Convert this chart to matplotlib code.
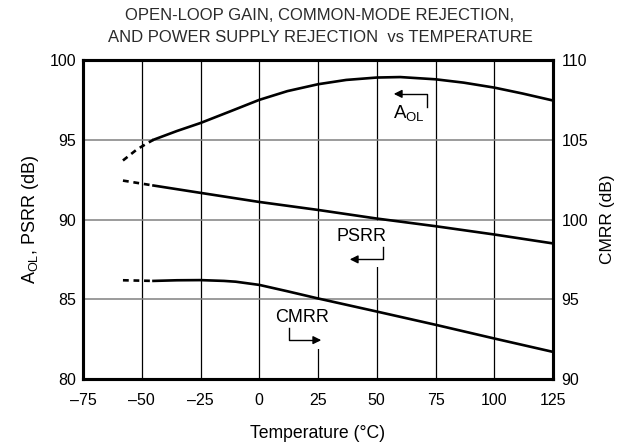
import matplotlib
matplotlib.use("Agg")
import matplotlib.pyplot as plt
import numpy as np

plt.rcParams['font.family'] = ['Liberation Sans', 'DejaVu Sans']
plt.rcParams['mathtext.fontset'] = 'custom'
plt.rcParams['mathtext.rm'] = 'Liberation Sans'

# A_OL (dB, left axis)
aol_dash_t = [-58, -55, -52, -48, -45]
aol_dash_v = [93.7, 94.05, 94.4, 94.75, 95.0]
aol_t = [-45, -35, -25, -12, 0, 12, 25, 37, 50, 60, 75, 87, 100, 112, 125]
aol_v = [95.0, 95.55, 96.05, 96.8, 97.5, 98.05, 98.48, 98.75, 98.9, 98.93, 98.79, 98.58, 98.27, 97.9, 97.46]

# PSRR (dB, left axis)
psrr_dash_t = [-58, -45]
psrr_dash_v = [92.44, 92.13]
psrr_t = [-45, -25, 0, 25, 50, 75, 100, 125]
psrr_v = [92.13, 91.67, 91.1, 90.6, 90.06, 89.58, 89.06, 88.5]

# CMRR (dB, right axis)
cmrr_dash_t = [-58, -45]
cmrr_dash_v = [96.19, 96.15]
cmrr_t = [-45, -35, -25, -15, -10, 0, 12, 25, 50, 75, 100, 125]
cmrr_v = [96.15, 96.19, 96.2, 96.15, 96.1, 95.9, 95.5, 95.05, 94.23, 93.4, 92.54, 91.7]

x_ticks = [-75, -50, -25, 0, 25, 50, 75, 100, 125]
x_labels = ['\u201375', '\u201350', '\u201325', '0', '25', '50', '75', '100', '125']
left_ticks = [80, 85, 90, 95, 100]
right_ticks = [90, 95, 100, 105, 110]

fig = plt.figure(figsize=(6.39, 4.48), dpi=100)
ax = fig.add_axes([83/639, 1-379/448, (553-83)/639, (379-60)/448])
ax2 = ax.twinx()

ax.set_xlim(-75, 125)
ax.set_ylim(80, 100)
ax2.set_ylim(90, 110)

for xt in x_ticks[1:-1]:
    ax.axvline(xt, color='black', lw=0.9, zorder=1)
for yt in left_ticks[1:-1]:
    ax.axhline(yt, color='#808080', lw=1.1, zorder=1)

lw = 1.9
dash = (0, (2.2, 1.8))
ax.plot(aol_t, aol_v, color='black', lw=lw, zorder=3)
ax.plot(aol_dash_t, aol_dash_v, color='black', lw=lw, ls=dash, zorder=3)
ax.plot(psrr_t, psrr_v, color='black', lw=lw, zorder=3)
ax.plot(psrr_dash_t, psrr_dash_v, color='black', lw=lw, ls=dash, zorder=3)
ax2.plot(cmrr_t, cmrr_v, color='black', lw=lw, zorder=3)
ax2.plot(cmrr_dash_t, cmrr_dash_v, color='black', lw=lw, ls=dash, zorder=3)

ax.set_xticks(x_ticks)
ax.set_xticklabels(x_labels)
ax.set_yticks(left_ticks)
ax2.set_yticks(right_ticks)
ax.tick_params(axis='x', length=0, labelsize=11.5, pad=10)
ax.tick_params(axis='y', length=0, labelsize=11.5, pad=5)
ax2.tick_params(axis='y', length=0, labelsize=11.5, pad=6)
for a in (ax, ax2):
    for s in a.spines.values():
        s.set_linewidth(2.2)

ax.set_xlabel('Temperature (\u00b0C)', fontsize=12.7, labelpad=12)
ax.set_ylabel('A$_{\\mathregular{OL}}$, PSRR (dB)', fontsize=13, labelpad=6)
ax2.set_ylabel('CMRR (dB)', fontsize=12.5, labelpad=9)

fig.text(320/639, 1-15/448, 'OPEN-LOOP GAIN, COMMON-MODE REJECTION,', ha='center', va='center', fontsize=12, color='#2a2a2a')
fig.text(320/639, 1-37/448, 'AND POWER SUPPLY REJECTION  vs TEMPERATURE', ha='center', va='center', fontsize=12, color='#2a2a2a')

# annotations (in data coordinates of left axis)
def px2data(px, py):
    t = -75 + (px - 83) / 2.35
    v = 100 - (py - 60) / 16.0
    return t, v

# A_OL label & arrow
tx, ty = px2data(409, 114)
ax.text(tx, ty, 'A$_{\\mathregular{OL}}$', ha='center', va='center', fontsize=13.5, zorder=5)
c = px2data(427, 94); b = px2data(427, 107); tip = px2data(391, 94)
ax.plot([b[0], c[0], tip[0] + 2.5], [b[1], c[1], c[1]], color='black', lw=1.0, zorder=5)
ax.annotate('', xy=tip, xytext=(tip[0] + 4, tip[1]),
            arrowprops=dict(arrowstyle='-|>', color='black', lw=1.0, mutation_scale=12), zorder=5)

# PSRR label & arrow
x0, y0 = px2data(368, 268)
ax.add_patch(plt.Rectangle((x0, y0), 18/2.35, 46/16, facecolor='white', edgecolor='none', zorder=4))
tx, ty = px2data(362, 237)
ax.text(tx, ty, 'PSRR', ha='center', va='center', fontsize=13, zorder=5)
top = px2data(383, 248); c = px2data(383, 260); tip = px2data(347, 260)
ax.plot([top[0], c[0], tip[0] + 2.5], [top[1], c[1], c[1]], color='black', lw=1.0, zorder=5)
ax.annotate('', xy=tip, xytext=(tip[0] + 4, tip[1]),
            arrowprops=dict(arrowstyle='-|>', color='black', lw=1.0, mutation_scale=12), zorder=5)

# CMRR label & arrow
x0, y0 = px2data(310, 350)
ax.add_patch(plt.Rectangle((x0, y0), 16/2.35, 49/16, facecolor='white', edgecolor='none', zorder=4))
tx, ty = px2data(302, 318)
ax.text(tx, ty, 'CMRR', ha='center', va='center', fontsize=13, zorder=5)
top = px2data(289, 329); c = px2data(289, 341); tip = px2data(324, 341)
ax.plot([top[0], c[0], tip[0] - 2.5], [top[1], c[1], c[1]], color='black', lw=1.0, zorder=5)
ax.annotate('', xy=tip, xytext=(tip[0] - 4, tip[1]),
            arrowprops=dict(arrowstyle='-|>', color='black', lw=1.0, mutation_scale=12), zorder=5)

fig.savefig('out.png', dpi=100)
